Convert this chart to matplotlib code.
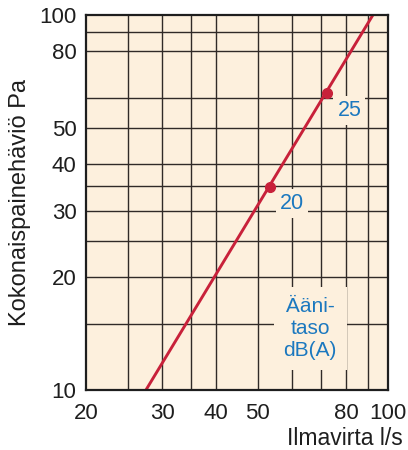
import matplotlib
matplotlib.use('Agg')
import matplotlib.pyplot as plt
from matplotlib.ticker import FixedLocator, NullLocator, FixedFormatter

plt.rcParams['font.family'] = ['Liberation Sans', 'DejaVu Sans']

# data
line_x = [27.5, 92.5]          # l/s where the curve leaves the frame
line_y = [10, 100]             # Pa
point_x = [53.4, 72.5]
point_y = [34.8, 62.0]
point_labels = ['20', '25']    # dB(A)
label_x = [60.0, 81.5]
label_y = [31.4, 55.5]

x_grid = [25, 30, 35, 40, 50, 60, 70, 80, 90]
y_grid = [15, 20, 25, 30, 35, 40, 50, 60, 80, 90]
x_ticks = [20, 30, 40, 50, 80, 100]
y_ticks = [10, 20, 30, 40, 50, 80, 100]

bg = '#fdf0dd'
red = '#c8213a'
blue = '#1b78bf'
gridc = '#302a27'

fig = plt.figure(figsize=(4.08, 4.5), dpi=100)
ax = fig.add_axes([0.2115, 0.1333, 0.7387, 0.834])
ax.set_facecolor(bg)
ax.set_xscale('log')
ax.set_yscale('log')
ax.set_xlim(20, 100)
ax.set_ylim(10, 100)

for gx in x_grid:
    ax.axvline(gx, color=gridc, lw=1.0, zorder=1)
for gy in y_grid:
    ax.axhline(gy, color=gridc, lw=1.0, zorder=1)

ax.plot(line_x, line_y, color=red, lw=2.1, zorder=4, solid_capstyle='butt')
ax.plot(point_x, point_y, 'o', color=red, ms=7, zorder=5)

for lx, ly, t in zip(label_x, label_y, point_labels):
    ax.text(lx, ly, t, color=blue, fontsize=15.5, ha='center', va='center',
            zorder=3, bbox=dict(facecolor=bg, edgecolor='none', pad=3))

ax.text(66.1, 14.6, 'Ääni-\ntaso\ndB(A)', color=blue, fontsize=15,
        ha='center', va='center', linespacing=1.2, zorder=3,
        bbox=dict(facecolor=bg, edgecolor='none', pad=7))

ax.xaxis.set_major_locator(FixedLocator(x_ticks))
ax.xaxis.set_major_formatter(FixedFormatter([str(v) for v in x_ticks]))
ax.xaxis.set_minor_locator(NullLocator())
ax.yaxis.set_major_locator(FixedLocator(y_ticks))
ax.yaxis.set_major_formatter(FixedFormatter([str(v) for v in y_ticks]))
ax.yaxis.set_minor_locator(NullLocator())
ax.tick_params(axis='both', length=0, labelsize=16, colors='#1e1e1e')
ax.tick_params(axis='x', pad=9)
ax.tick_params(axis='y', pad=7)

for s in ax.spines.values():
    s.set_linewidth(1.6)
    s.set_color('#1e1e1e')
    s.set_zorder(6)

ax.set_ylabel('Kokonaispainehäviö Pa', fontsize=17, color='#1e1e1e')
ax.yaxis.set_label_coords(-0.185, 0.5)
fig.text(403 / 408, 5 / 450, 'Ilmavirta l/s', fontsize=16.5, color='#1e1e1e',
         ha='right', va='baseline')

fig.savefig('out.png', dpi=100, facecolor='white')
